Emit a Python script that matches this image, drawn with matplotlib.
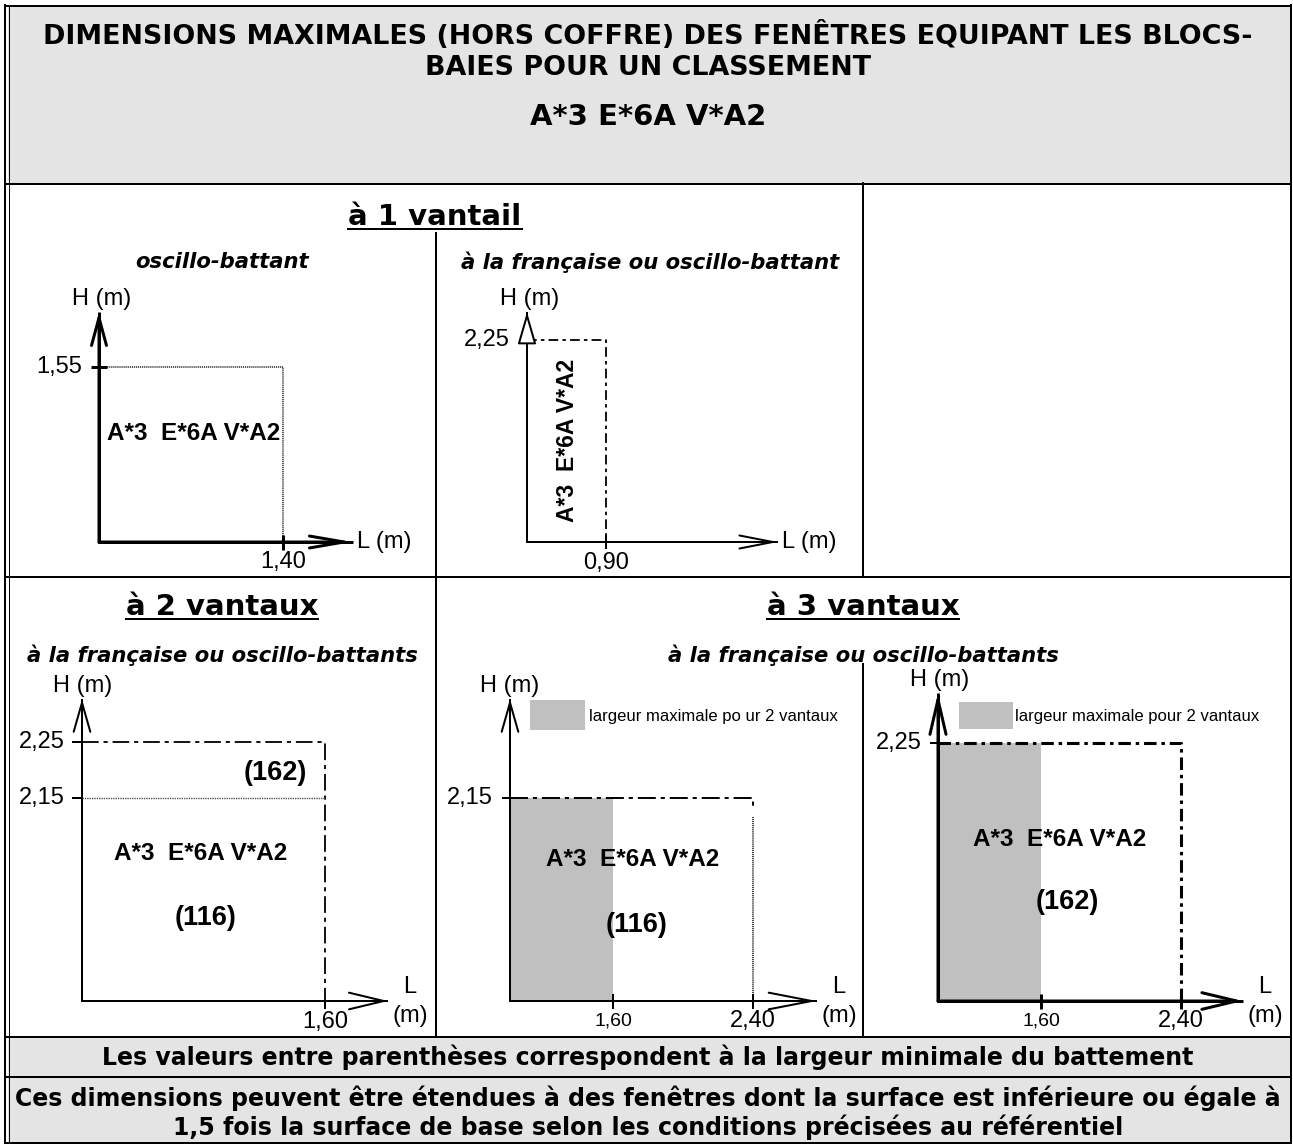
import numpy as np
import matplotlib
matplotlib.use("Agg")
import matplotlib.pyplot as plt
from matplotlib.patches import Rectangle

# ---- texts ----
title_lines = ["DIMENSIONS MAXIMALES (HORS COFFRE) DES FENÊTRES EQUIPANT LES BLOCS-",
               "BAIES POUR UN CLASSEMENT"]
classement = "A*3 E*6A V*A2"
classement_panel = "A*3  E*6A V*A2"
section_titles = ["à 1 vantail", "à 2 vantaux", "à 3 vantaux"]
sub_titles = ["oscillo-battant", "à la française ou oscillo-battant",
              "à la française ou oscillo-battants", "à la française ou oscillo-battants"]
legend_labels = ["largeur maximale po ur 2 vantaux", "largeur maximale pour 2 vantaux"]
footer_1 = "Les valeurs entre parenthèses correspondent à la largeur minimale du battement"
footer_2 = ["Ces dimensions peuvent être étendues à des fenêtres dont la surface est inférieure ou égale à",
            "1,5 fois la surface de base selon les conditions précisées au référentiel"]

# ---- values (m) ----
L_1v = [1.40, 0.90]          # oscillo-battant, à la française
H_1v = [1.55, 2.25]
L_2v = [1.60]
H_2v = [2.15, 2.25]
batt_2v = ["(116)", "(162)"]
L_3v = [1.60, 2.40]          # largeur max pour 2 vantaux, pour 3 vantaux
H_3v = [2.15, 2.25]
batt_3v = ["(116)", "(162)"]

plt.rcParams["lines.scale_dashes"] = False

W, H = 1293, 1144
fig = plt.figure(figsize=(W / 100, H / 100), dpi=100)
bg = fig.add_axes([0, 0, 1, 1])
bg.set_xlim(0, W)
bg.set_ylim(H, 0)
bg.axis("off")

PT = 0.72  # points per pixel
GREY = "#e4e4e4"
SANS = "Liberation Sans"
LAB = 17


def fmt(v):
    return f"{v:.2f}".replace(".", ",")


# ---- table frame ----
bg.add_patch(Rectangle((8, 7), 1283, 176, fc=GREY, ec="none"))
bg.add_patch(Rectangle((8, 1037), 1283, 40, fc=GREY, ec="none"))
bg.add_patch(Rectangle((8, 1077), 1283, 66, fc=GREY, ec="none"))
for y in [6, 183.5, 577, 1036.5, 1076.5, 1142.5]:
    bg.plot([4, 1292], [y, y], color="black", lw=2 * PT, solid_capstyle="butt")
bg.plot([4.5, 4.5], [5, 1144], color="black", lw=2 * PT)
bg.plot([8.5, 8.5], [6, 1144], color="black", lw=1 * PT)
bg.plot([1291, 1291], [5, 1144], color="black", lw=2 * PT)
bg.plot([436, 436], [233, 1037], color="black", lw=2 * PT)
bg.plot([863, 863], [183, 577], color="black", lw=2 * PT)
bg.plot([863, 863], [664, 1037], color="black", lw=2 * PT)

# header
bg.text(648, 36, title_lines[0], ha="center", va="center", fontsize=19.4, fontweight="bold")
bg.text(648, 68, title_lines[1], ha="center", va="center", fontsize=19.4, fontweight="bold")
bg.text(648, 117, classement, ha="center", va="center", fontsize=21, fontweight="bold")

# section titles (underlined)
sec = [bg.text(435, 225, section_titles[0], ha="center", va="baseline", fontsize=21, fontweight="bold"),
       bg.text(222, 615, section_titles[1], ha="center", va="baseline", fontsize=21, fontweight="bold"),
       bg.text(863, 615, section_titles[2], ha="center", va="baseline", fontsize=21, fontweight="bold")]
for txt, (x, y) in zip(sub_titles, [(222, 262), (650, 262), (222, 655), (863, 655)]):
    bg.text(x, y, txt, ha="center", va="center", fontsize=15.2, fontweight="bold", fontstyle="italic")

# footers
bg.text(648, 1057, footer_1, ha="center", va="center", fontsize=17, fontweight="bold")
bg.text(648, 1098, footer_2[0], ha="center", va="center", fontsize=17, fontweight="bold")
bg.text(648, 1127, footer_2[1], ha="center", va="center", fontsize=17, fontweight="bold")


# ---- helpers for the small diagrams (not to scale: piecewise scale) ----
def make_scale(vals, pix):
    v = np.array([0.0] + list(vals), dtype=float)
    p = np.array([0.0] + list(pix), dtype=float)
    s0 = p[1] / v[1]
    s1 = (p[-1] - p[-2]) / (v[-1] - v[-2])
    v = np.concatenate([[-100.0], v, [v[-1] + 100.0]])
    p = np.concatenate([[-100.0 * s0], p, [p[-1] + 100.0 * s1]])
    return (lambda x: np.interp(x, v, p)), (lambda y: np.interp(y, p, v))


def panel(origin, xs, ys, box):
    l, t, r, b = box
    ax = fig.add_axes([l / W, 1 - b / H, (r - l) / W, (b - t) / H])
    fx, ix = make_scale(*xs)
    fy, iy = make_scale(*ys)
    ax.set_xscale("function", functions=(fx, ix))
    ax.set_yscale("function", functions=(fy, iy))
    ox, oy = origin
    ax.set_xlim(float(ix(l - ox)), float(ix(r - ox)))
    ax.set_ylim(float(iy(oy - b)), float(iy(oy - t)))
    ax.axis("off")
    return ax, ix, iy


def axes_arrows(ax, xtip, ytip, lw, xhead, yhead, hollow=False):
    ax.plot([0, 0, xtip], [ytip, 0, 0], color="black", lw=lw, solid_joinstyle="miter",
            solid_capstyle="butt", clip_on=False, zorder=4)
    ax.annotate("", xy=(xtip, 0), xytext=(0, 0),
                arrowprops=dict(arrowstyle=f"->,head_length={xhead[0]},head_width={xhead[1]}",
                                lw=lw, color="black", shrinkA=0, shrinkB=0, mutation_scale=1),
                annotation_clip=False, zorder=5)
    style = "-|>" if hollow else "->"
    ax.annotate("", xy=(0, ytip), xytext=(0, 0),
                arrowprops=dict(arrowstyle=f"{style},head_length={yhead[0]},head_width={yhead[1]}",
                                lw=lw, edgecolor="black", facecolor="white" if hollow else "black",
                                shrinkA=0, shrinkB=0, mutation_scale=1),
                annotation_clip=False, zorder=5)


def lab(ax, text, xy, dx, dy, ha="center", size=LAB):
    ax.annotate(text, xy, xytext=(dx * PT, -dy * PT), textcoords="offset points",
                ha=ha, va="center", fontsize=size, family=SANS, annotation_clip=False)


def axis_names(ax, xtip, ytip, split=False, hdx=0):
    lab(ax, "H (m)", (0, ytip), hdx, -13)
    if split:
        lab(ax, "L", (xtip, 0), 22, -14)
        lab(ax, "(m)", (xtip, 0), 22, 15)
    else:
        lab(ax, "L (m)", (xtip, 0), 4, 0, ha="left")


# ---- panel 1 : 1 vantail oscillo-battant ----
ax, ix, iy = panel((99, 542), (L_1v[:1], [184]), (H_1v[:1], [175]), (10, 280, 434, 575))
xt, yt = float(ix(254)), float(iy(230))
axes_arrows(ax, xt, yt, 3 * PT, (25, 4.3), (20, 5.4))
ax.plot([0, L_1v[0], L_1v[0]], [H_1v[0], H_1v[0], 0], color="#333333", lw=1.2,
        ls=(0, (0.8, 0.6)), clip_on=False)
ax.plot(0, H_1v[0], marker="_", ms=16 * PT, mew=3 * PT, color="black", clip_on=False)
ax.plot(L_1v[0], 0, marker="|", ms=15 * PT, mew=3 * PT, color="black", clip_on=False)
lab(ax, fmt(H_1v[0]), (0, H_1v[0]), -17, 0, ha="right")
lab(ax, fmt(L_1v[0]), (L_1v[0], 0), 0, 20)
axis_names(ax, xt, yt, hdx=3)

# ---- panel 2 : 1 vantail à la française ----
ax, ix, iy = panel((527, 542), (L_1v[1:], [79]), (H_1v[1:], [202]), (438, 280, 861, 575))
xt, yt = float(ix(251)), float(iy(230))
axes_arrows(ax, xt, yt, 2 * PT, (24, 4.7), (20, 5.8), hollow=True)
ax.plot([0, L_1v[1], L_1v[1]], [H_1v[1], H_1v[1], 0], color="black", lw=1.3,
        ls=(0, (7, 3, 2.5, 3)), clip_on=False)
ax.plot(0, H_1v[1], marker=0, ms=8 * PT, mew=2 * PT, color="black", clip_on=False)
ax.plot(L_1v[1], 0, marker="|", ms=14 * PT, mew=2 * PT, color="black", clip_on=False)
lab(ax, fmt(H_1v[1]), (0, H_1v[1]), -17, 0, ha="right")
lab(ax, fmt(L_1v[1]), (L_1v[1], 0), 0, 21)
axis_names(ax, xt, yt, hdx=3)

# ---- panel 3 : 2 vantaux ----
ax, ix, iy = panel((82, 1001), (L_2v, [243]), (H_2v, [203, 259]), (10, 668, 434, 1035))
xt, yt = float(ix(306)), float(iy(302))
axes_arrows(ax, xt, yt, 2 * PT, (25, 6), (21, 6))
ax.plot([0, L_2v[0], L_2v[0]], [H_2v[1], H_2v[1], 0], color="black", lw=1.3,
        ls=(0, (12, 3.5, 3, 3.5)), clip_on=False)
ax.plot([0, L_2v[0]], [H_2v[0], H_2v[0]], color="#555555", lw=1.0, ls=(0, (1, 0.7)), clip_on=False)
for h in H_2v:
    ax.plot(0, h, marker=0, ms=10 * PT, mew=2 * PT, color="black", clip_on=False)
    lab(ax, fmt(h), (0, h), -17, 0, ha="right")
ax.plot(L_2v[0], 0, marker=3, ms=8 * PT, mew=2 * PT, color="black", clip_on=False)
lab(ax, fmt(L_2v[0]), (L_2v[0], 0), 0, 21)
axis_names(ax, xt, yt, split=True, hdx=1)

# ---- panel 4 : 3 vantaux, H 2,15 ----
ax, ix, iy = panel((510, 1001), (L_3v, [103, 243]), (H_3v[:1], [203]), (438, 668, 861, 1035))
xt, yt = float(ix(307)), float(iy(302))
ax.fill_between([0, L_3v[0]], 0, H_3v[0], color="#c0c0c0", lw=0, zorder=1)
axes_arrows(ax, xt, yt, 2 * PT, (31, 6), (21, 6))
ax.plot([0, L_3v[1], L_3v[1]], [H_3v[0], H_3v[0], 2.02], color="black", lw=1.4,
        ls=(0, (13, 3.5, 3, 3.5)), clip_on=False)
ax.plot([L_3v[1], L_3v[1]], [1.95, 0], color="#333333", lw=1.3, ls=(0, (0.8, 0.6)), clip_on=False)
ax.plot(0, H_3v[0], marker=0, ms=8 * PT, mew=2 * PT, color="black", clip_on=False)
lab(ax, fmt(H_3v[0]), (0, H_3v[0]), -17, 0, ha="right")
for L, s in zip(L_3v, [14, LAB]):
    ax.plot(L, 0, marker="|", ms=15 * PT, mew=2 * PT, color="black", clip_on=False)
    lab(ax, fmt(L), (L, 0), 0, 20, size=s)
axis_names(ax, xt, yt, split=True)

# ---- panel 5 : 3 vantaux, H 2,25 ----
ax, ix, iy = panel((938, 1001), (L_3v, [103, 243]), (H_3v[1:], [258]), (865, 668, 1289, 1035))
xt, yt = float(ix(305)), float(iy(308))
ax.fill_between([0, L_3v[0]], 0, H_3v[1], color="#c0c0c0", lw=0, zorder=1)
axes_arrows(ax, xt, yt, 3 * PT, (25, 6), (25, 5.8))
ax.plot([0, L_3v[1], L_3v[1]], [H_3v[1], H_3v[1], 0], color="black", lw=2.2,
        ls=(0, (9, 3.5, 2.5, 3.5)), clip_on=False)
ax.plot(0, H_3v[1], marker=0, ms=8 * PT, mew=2 * PT, color="black", clip_on=False)
lab(ax, fmt(H_3v[1]), (0, H_3v[1]), -16, 0, ha="right")
for L, s in zip(L_3v, [14, LAB]):
    ax.plot(L, 0, marker="|", ms=15 * PT, mew=3 * PT, color="black", clip_on=False)
    lab(ax, fmt(L), (L, 0), 0, 20, size=s)
axis_names(ax, xt, yt, split=True, hdx=2)

# ---- overlay: legends and in-panel labels (drawn above the grey fills) ----
top = fig.add_axes([0, 0, 1, 1])
top.set_xlim(0, W)
top.set_ylim(H, 0)
top.axis("off")
bold = dict(ha="center", va="center", fontsize=17.5, fontweight="bold", family=SANS)
num = dict(ha="center", va="center", fontsize=19.5, fontweight="bold", family=SANS)

top.text(194, 434, classement_panel, **bold)
top.text(567, 440, classement_panel, rotation=90, **dict(bold, fontsize=16.5))
top.text(275, 773, batt_2v[1], **num)
top.text(201, 854, classement_panel, **bold)
top.text(206, 918, batt_2v[0], **num)
top.add_patch(Rectangle((530, 700), 55, 30, fc="#c0c0c0", ec="none"))
top.text(589, 717, legend_labels[0], ha="left", va="center", fontsize=12, family=SANS)
top.text(633, 860, classement_panel, **bold)
top.text(637, 925, batt_3v[0], **num)
top.add_patch(Rectangle((959, 702), 54, 27, fc="#c0c0c0", ec="none"))
top.text(1015, 717, legend_labels[1], ha="left", va="center", fontsize=12, family=SANS)
top.text(1060, 840, classement_panel, **bold)
top.text(1067, 902, batt_3v[1], **num)

# underline the section titles
fig.canvas.draw()
r = fig.canvas.get_renderer()
for t in sec:
    bb = t.get_window_extent(r)
    y = t.get_position()[1] + 4
    bg.plot([bb.x0, bb.x1], [y, y], color="black", lw=2 * PT)

fig.savefig("out.png", dpi=100)
